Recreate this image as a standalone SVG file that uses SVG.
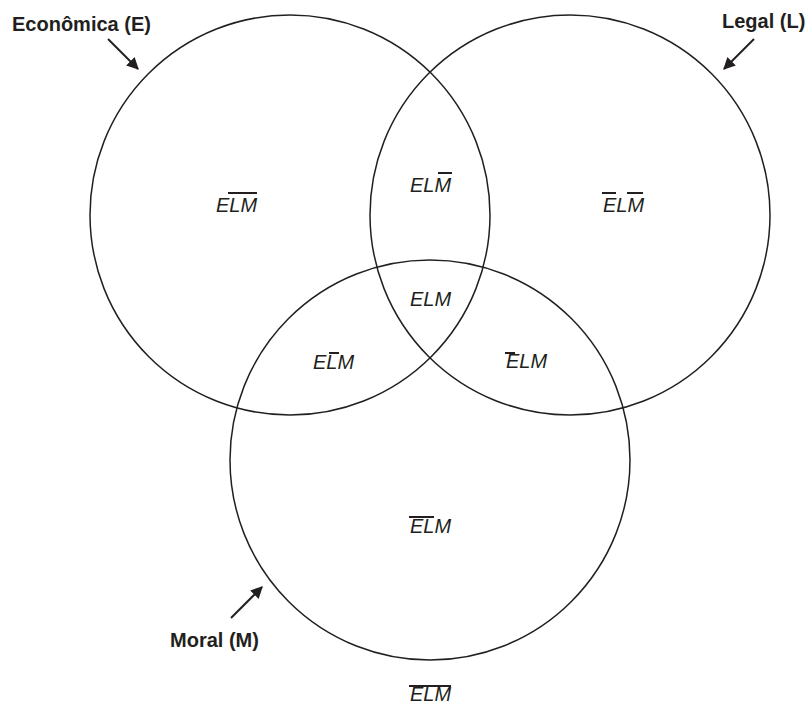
<svg xmlns="http://www.w3.org/2000/svg" width="809" height="706" viewBox="0 0 809 706">
  <style>
    .set { fill: none; stroke: #231f20; stroke-width: 1.5; }
    .title { font-family: "Liberation Sans", Arial, sans-serif; font-weight: bold; font-size: 20px; fill: #231f20; }
    .region { font-family: "Liberation Sans", Arial, sans-serif; font-style: italic; font-size: 20px; fill: #231f20; }
    .bar { stroke: #231f20; stroke-width: 2; }
    .pointer { stroke: #231f20; stroke-width: 2; fill: none; }
  </style>
  <defs>
    <marker id="head" viewBox="0 0 10 10" refX="9" refY="5" markerWidth="6" markerHeight="6" orient="auto" markerUnits="strokeWidth">
      <path d="M0,0 L10,5 L0,10 Z" fill="#231f20"/>
    </marker>
  </defs>
  <rect width="809" height="706" fill="#ffffff"/>

  <!-- the three sets -->
  <g id="set-E"><circle class="set" cx="290" cy="215" r="200"/></g>
  <g id="set-L"><circle class="set" cx="570" cy="215" r="200"/></g>
  <g id="set-M"><circle class="set" cx="430" cy="460" r="200"/></g>

  <!-- set titles -->
  <g id="title-E"><text class="title" x="12" y="31">Econômica (E)</text></g>
  <g id="title-L"><text class="title" x="722" y="28">Legal (L)</text></g>
  <g id="title-M"><text class="title" x="170" y="647">Moral (M)</text></g>

  <!-- pointers from titles to circles -->
  <g id="connectors">
    <line class="pointer" x1="108" y1="39" x2="138" y2="69" marker-end="url(#head)"/>
    <line class="pointer" x1="754" y1="39" x2="724" y2="69" marker-end="url(#head)"/>
    <line class="pointer" x1="231" y1="618" x2="262" y2="587" marker-end="url(#head)"/>
  </g>

  <!-- region labels; complemented letters carry a bar -->
  <g id="r-E-notL-notM">
    <text class="region" x="216" y="212">ELM</text>
    <line class="bar" x1="228" y1="193" x2="257" y2="193"/>
  </g>
  <g id="r-E-L-notM">
    <text class="region" x="410" y="192">ELM</text>
    <line class="bar" x1="438" y1="173" x2="452" y2="173"/>
  </g>
  <g id="r-notE-L-notM">
    <text class="region" x="603" y="212">ELM</text>
    <line class="bar" x1="602" y1="193" x2="616" y2="193"/>
    <line class="bar" x1="627" y1="193" x2="643" y2="193"/>
  </g>
  <g id="r-E-L-M">
    <text class="region" x="410" y="306">ELM</text>
  </g>
  <g id="r-E-notL-M">
    <text class="region" x="313" y="369">ELM</text>
    <line class="bar" x1="329" y1="353" x2="339" y2="353"/>
  </g>
  <g id="r-notE-L-M">
    <text class="region" x="506" y="368">ELM</text>
    <line class="bar" x1="505" y1="353" x2="515" y2="353"/>
  </g>
  <g id="r-notE-notL-M">
    <text class="region" x="410" y="533">ELM</text>
    <line class="bar" x1="409" y1="517" x2="434" y2="517"/>
  </g>
  <g id="r-outside">
    <text class="region" x="410" y="701">ELM</text>
    <line class="bar" x1="409" y1="686" x2="451" y2="686"/>
  </g>
</svg>
